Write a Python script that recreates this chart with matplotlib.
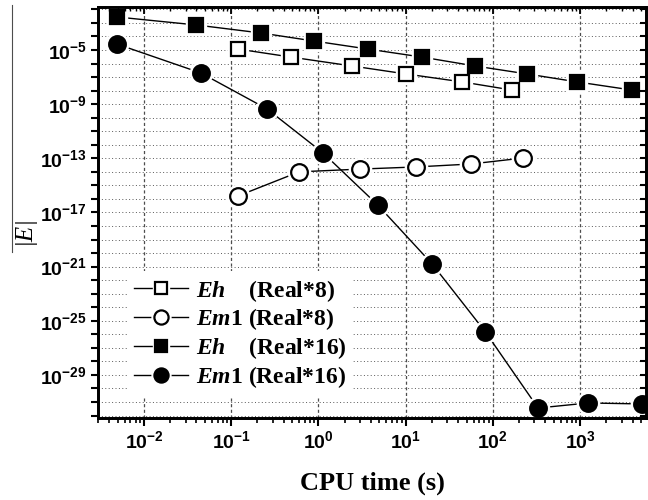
import math
import matplotlib
matplotlib.use("Agg")
import matplotlib.pyplot as plt
from matplotlib.ticker import FixedLocator, FuncFormatter, NullFormatter
from matplotlib.legend_handler import HandlerTuple
from matplotlib.lines import Line2D

plt.rcParams["font.family"] = "Liberation Sans"
plt.rcParams["font.weight"] = "bold"
plt.rcParams["mathtext.fontset"] = "custom"
plt.rcParams["mathtext.it"] = "Liberation Serif:italic:bold"
plt.rcParams["mathtext.rm"] = "Liberation Serif:bold"
plt.rcParams["mathtext.bf"] = "Liberation Serif:bold"

# CPU time (s) and error |E|
eh8_t = [0.12, 0.485, 2.43, 10.1, 44.4, 166]
eh8_e = [1.17e-5, 3.0e-6, 6.6e-7, 1.7e-7, 4.4e-8, 1.1e-8]

em8_t = [0.12, 0.6, 3.0, 13.1, 56, 222]
em8_e = [1.66e-16, 1.0e-14, 1.6e-14, 2.3e-14, 3.8e-14, 1.05e-13]

eh16_t = [0.0049, 0.0394, 0.22, 0.89, 3.71, 15.4, 62.5, 247, 925, 3940]
eh16_e = [2.75e-3, 7.1e-4, 1.8e-4, 4.6e-5, 1.17e-5, 3.0e-6, 6.6e-7, 1.7e-7, 4.4e-8, 1.1e-8]

em16_t = [0.0049, 0.045, 0.258, 1.13, 4.8, 20.1, 81.5, 330, 1236, 5140]
em16_e = [2.75e-5, 2.0e-7, 4.4e-10, 2.5e-13, 3.5e-17, 1.6e-21, 1.6e-26, 3.6e-32, 8.5e-32, 7.2e-32]

labels = [r"$Eh$    (Real*8)", r"$Em$1 (Real*8)", r"$Eh$    (Real*16)", r"$Em$1 (Real*16)"]
x_decades = [-2, -1, 0, 1, 2, 3]
y_labelled = [-5, -9, -13, -17, -21, -25, -29]

xlim = (2.97e-3, 5.7e3)
ylim = (6.6e-33, 1.5e-2)
x_major = [10.0 ** k for k in x_decades]
x_minor = [m * 10.0 ** k for k in range(-3, 4) for m in range(2, 10)
           if xlim[0] <= m * 10.0 ** k <= xlim[1]]
y_major = [10.0 ** k for k in range(-32, -1)]

fig = plt.figure(figsize=(6.48, 5.0), dpi=100)
ax = fig.add_axes([98 / 648, 82 / 500, 548 / 648, 411 / 500])
ax.set_xscale("log")
ax.set_yscale("log")


def draw(t, e, marker, filled, ms):
    ln, = ax.plot(t, e, color="black", lw=1.0, zorder=3)
    halo, = ax.plot(t, e, ls="none", marker=marker, ms=ms + 4, mfc="white", mec="white", zorder=4)
    mk, = ax.plot(t, e, ls="none", marker=marker, ms=ms, mfc="black" if filled else "white",
                  mec="black", mew=1.6, zorder=5)
    return (ln, halo, mk)


h1 = draw(eh8_t, eh8_e, "s", False, 10)
h2 = draw(em8_t, em8_e, "o", False, 12)
h3 = draw(eh16_t, eh16_e, "s", True, 10)
h4 = draw(em16_t, em16_e, "o", True, 12)

ax.set_xlim(*xlim)
ax.set_ylim(*ylim)


def ylab(v, pos):
    k = int(round(math.log10(v)))
    return r"$\mathdefault{10^{%d}}$" % k if k in y_labelled else ""


def xlab(v, pos):
    return r"$\mathdefault{10^{%d}}$" % int(round(math.log10(v)))


ax.yaxis.set_major_locator(FixedLocator(y_major))
ax.yaxis.set_minor_locator(FixedLocator([]))
ax.yaxis.set_major_formatter(FuncFormatter(ylab))
ax.xaxis.set_major_locator(FixedLocator(x_major))
ax.xaxis.set_minor_locator(FixedLocator(x_minor))
ax.xaxis.set_major_formatter(FuncFormatter(xlab))
ax.xaxis.set_minor_formatter(NullFormatter())

ax.grid(axis="x", which="major", ls=(0, (2.5, 2)), color="0.3", lw=0.9)
ax.grid(axis="y", which="major", ls=(0, (1, 2.5)), color="0.35", lw=0.7)

ax.tick_params(axis="x", which="major", direction="out", length=6, width=1.5, labelsize=14, pad=3)
ax.tick_params(axis="x", which="minor", direction="out", length=3.5, width=1.2)
ax.tick_params(axis="y", which="major", direction="out", length=5, width=1.5, labelsize=14, pad=3)
for s in ax.spines.values():
    s.set_linewidth(1.8)

# inward ticks on the top and right frame
top = ax.twiny()
top.set_xscale("log")
top.set_xlim(*xlim)
top.xaxis.set_major_locator(FixedLocator(x_major))
top.xaxis.set_minor_locator(FixedLocator(x_minor))
top.xaxis.set_major_formatter(NullFormatter())
top.xaxis.set_minor_formatter(NullFormatter())
top.tick_params(axis="x", which="major", direction="in", length=5, width=1.3, labeltop=False)
top.tick_params(axis="x", which="minor", direction="in", length=3, width=1.0)
right = ax.twinx()
right.set_yscale("log")
right.set_ylim(*ylim)
right.yaxis.set_major_locator(FixedLocator(y_major))
right.yaxis.set_minor_locator(FixedLocator([]))
right.yaxis.set_major_formatter(NullFormatter())
right.tick_params(axis="y", which="major", direction="in", length=4, width=1.5, labelright=False)
for a in (top, right):
    for s in a.spines.values():
        s.set_linewidth(1.8)

leg = ax.legend([h1, h2, h3, h4], labels, handler_map={tuple: HandlerTuple(ndivide=1)},
                loc="lower left", bbox_to_anchor=(0.053, 0.051), borderaxespad=0,
                borderpad=0.3, handlelength=2.3, handletextpad=0.3, labelspacing=0.12,
                markerscale=0.85, fancybox=False, framealpha=1, edgecolor="none",
                prop={"family": "Liberation Serif", "weight": "bold", "size": 17})
leg.set_zorder(10)

ax.set_xlabel("CPU time (s)", family="Liberation Serif", weight="bold", size=19)
ax.xaxis.label.set_va("center")
ax.xaxis.set_label_coords(0.5, -0.158)

fig.text(24 / 648, 1 - 230 / 500, "|E|", rotation=90, family="Liberation Serif",
         style="italic", weight="normal", size=18, ha="center", va="center")
fig.add_artist(Line2D([12 / 648, 12 / 648], [1 - 5 / 500, 1 - 252 / 500], color="0.3", lw=0.8))

fig.savefig("out.png", dpi=100)
